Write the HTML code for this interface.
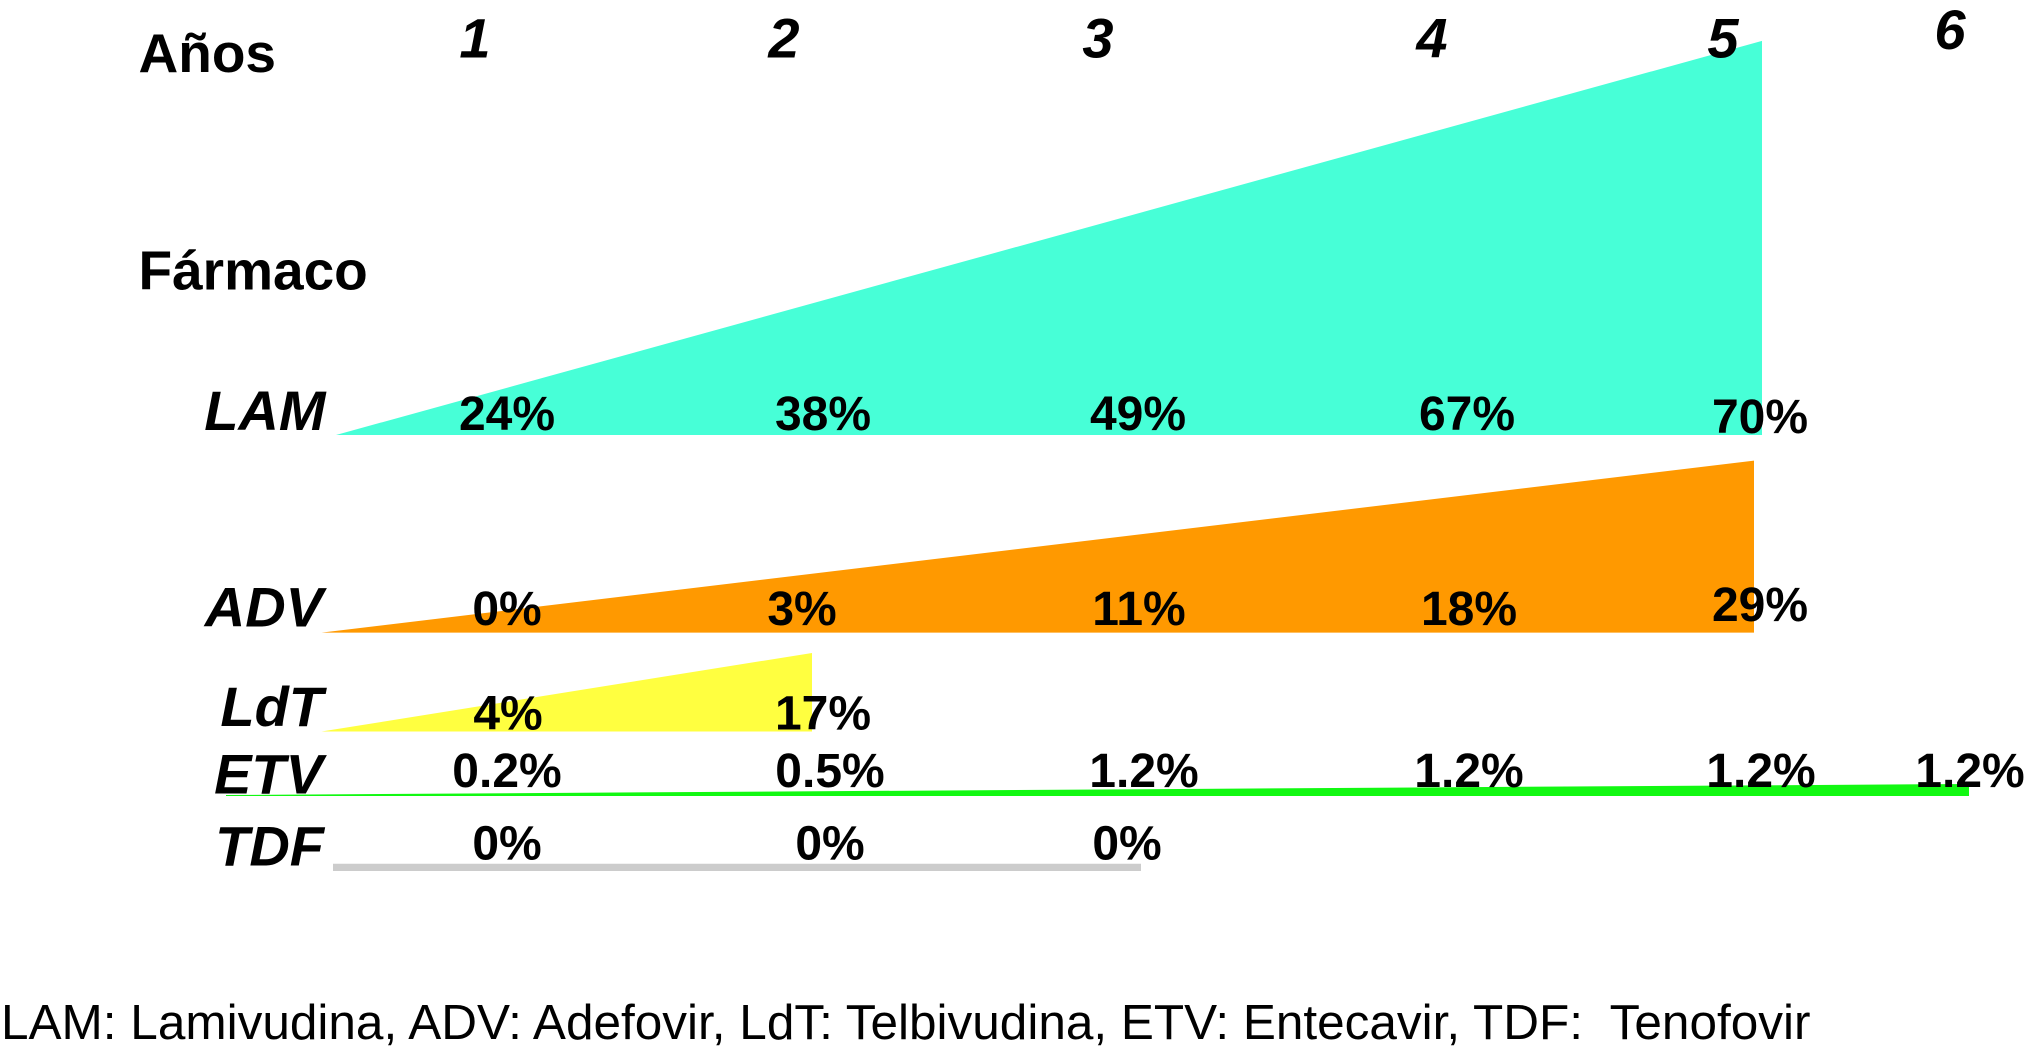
<!DOCTYPE html>
<html lang="es">
<head>
<meta charset="utf-8">
<title>Resistencia a fármacos por año</title>
<style>
html,body{margin:0;padding:0;background:#fff;width:2028px;height:1062px;overflow:hidden}
svg{display:block}
text{font-family:"Liberation Sans",Arial,sans-serif;fill:#000}
.b{font-weight:700}
.bi{font-weight:700;font-style:italic}
</style>
</head>
<body>
<svg id="chart" width="2028" height="1062" viewBox="0 0 2028 1062" xmlns="http://www.w3.org/2000/svg">
  <g id="wedges"></g>
  <g id="labels">
    <text class="b" x="138.5" y="72" font-size="55">Años</text>
    <text class="b" x="138.5" y="289.5" font-size="55">Fármaco</text>
  </g>
  <text id="footnote" x="1" y="1039" font-size="49.5" style="white-space:pre" xml:space="preserve">LAM: Lamivudina, ADV: Adefovir, LdT: Telbivudina, ETV: Entecavir, TDF:  Tenofovir</text>
</svg>
<script>
// --- chart data ---
const years = [1, 2, 3, 4, 5, 6];
const lamValues = [24, 38, 49, 67, 70];
const advValues = [0, 3, 11, 18, 29];
const ldtValues = [4, 17];
const etvValues = [0.2, 0.5, 1.2, 1.2, 1.2, 1.2];
const tdfValues = [0, 0, 0];

// --- layout ---
const NS = 'http://www.w3.org/2000/svg';
const rows = [
  {id:'lam', name:'LAM', values:lamValues, color:'#47ffd7', base:435, left:336, endNudge:-1, perPct:5.63, minH:0,
   nameX:325.5, nameY:430, labelY:[430,430,430,430,433], nudge:[0,2,3,18,-3]},
  {id:'adv', name:'ADV', values:advValues, color:'#ff9900', base:632.6, left:321.5, endNudge:-9, perPct:5.93, minH:0,
   nameX:323, nameY:626.5, labelY:[625,625,625,625,621], nudge:[0,-19,4,20,-3]},
  {id:'ldt', name:'LdT', values:ldtValues, color:'#ffff40', base:731.5, left:321.5, endNudge:-9, perPct:4.62, minH:0,
   nameX:323, nameY:726, labelY:[729.5,729.5], nudge:[1,2]},
  {id:'etv', name:'ETV', values:etvValues, color:'#12f812', base:796, left:226, endNudge:-2, perPct:10, minH:0,
   nameX:323, nameY:793.5, labelY:[787,787,787,787,787,787], nudge:[0,9,9,20,-2,-1], leftH:1},
  {id:'tdf', name:'TDF', values:tdfValues, color:'#cccccc', base:871, left:333, endNudge:6, perPct:10, minH:7.2,
   nameX:324, nameY:865.5, labelY:[859.5,859.5,859.5], nudge:[0,9,-8], leftH:7.2}
];
const headerNudge = [-32,-37,-37,-17,-40,-21];
const headerY = [57.6,57.6,57.6,57.6,57.6,49];

// --- axis functions ---
function xAxis(year){
  return 507 + (Math.min(year,5)-1)*314 + Math.max(year-5,0)*208;
}
function heightAxis(row, value){
  return row.minH + value*row.perPct;
}

const wedgeLayer = document.getElementById('wedges');
const labelLayer = document.getElementById('labels');

function addText(cls, x, y, size, anchor, str){
  const t = document.createElementNS(NS,'text');
  t.setAttribute('class',cls);
  t.setAttribute('x',x);
  t.setAttribute('y',y);
  t.setAttribute('font-size',size);
  t.setAttribute('text-anchor',anchor);
  t.textContent = str;
  labelLayer.appendChild(t);
  return t;
}

years.forEach(function(y,i){
  const h = addText('bi', xAxis(y)+headerNudge[i], headerY[i], 56, 'middle', String(y));
  
  
});

rows.forEach(function(row){
  const n = row.values.length;
  const x0 = row.left;
  const x1 = xAxis(years[n-1]) + row.endNudge;
  const top = row.base - heightAxis(row, row.values[n-1]);
  const leftTop = row.base - (row.leftH || 0);
  const poly = document.createElementNS(NS,'polygon');
  poly.setAttribute('points', x0+','+leftTop+' '+x1+','+top+' '+x1+','+row.base+' '+x0+','+row.base);
  poly.setAttribute('fill', row.color);
  
  
  wedgeLayer.appendChild(poly);

  const rn = addText('bi', row.nameX, row.nameY, 56, 'end', row.name);
  
  

  row.values.forEach(function(v,i){
    const t = addText('b', xAxis(years[i])+row.nudge[i], row.labelY[i], 48, 'middle', v+'%');
    
    
  });
});
</script>
</body>
</html>
